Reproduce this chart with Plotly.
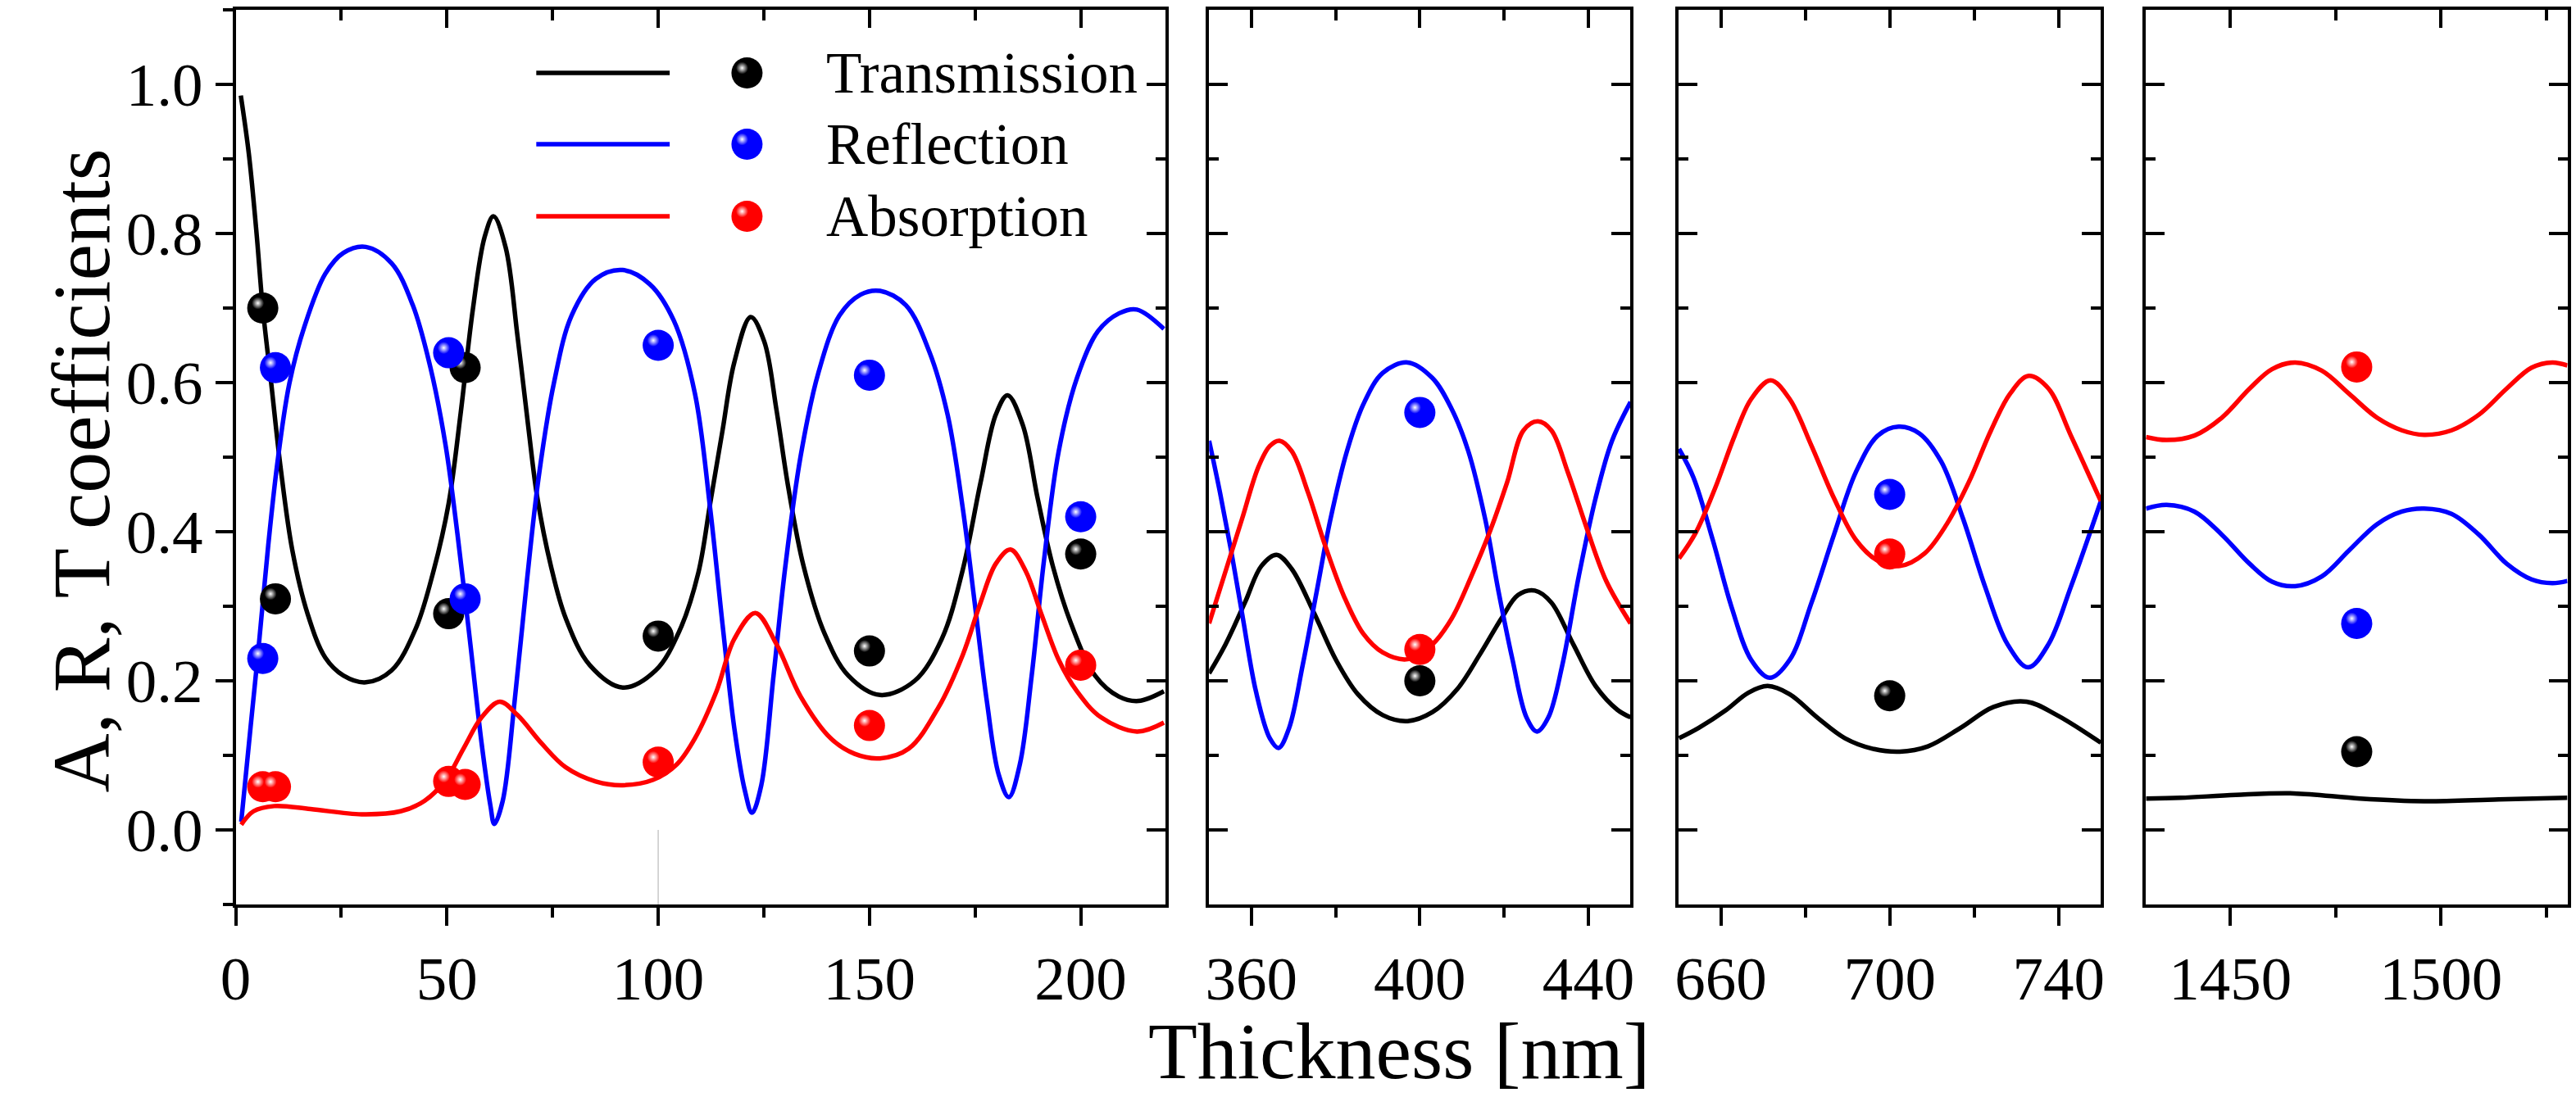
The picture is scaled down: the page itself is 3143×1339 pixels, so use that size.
import plotly.graph_objects as go

# ---------------- data ----------------
# Panel 1: 0-220 nm (calculated curves)
t1_T = [1.2, 3.1, 4.9, 6.4, 8.4, 10.6, 13.4, 17.0, 21.2, 25.5, 30.8, 36.9, 42.6, 46.8, 50.4, 53.2,
        56.1, 58.9, 61.0, 63.9, 66.7, 69.2, 71.4, 74.6, 78.1, 83.8, 91.6, 99.4, 105.1, 109.5, 112.3,
        115.2, 118.0, 121.9, 125.1, 128.0, 130.8, 134.4, 139.4, 145.0, 152.5, 160.7, 167.1, 172.0,
        176.3, 179.9, 182.7, 186.3, 189.8, 193.4, 197.7, 203.4, 209.0, 213.7, 219.7]
T1 = [0.985, 0.907, 0.802, 0.700, 0.599, 0.487, 0.375, 0.290, 0.231, 0.207, 0.198, 0.214, 0.270,
      0.347, 0.438, 0.557, 0.697, 0.795, 0.823, 0.781, 0.662, 0.543, 0.445, 0.354, 0.284, 0.221,
      0.191, 0.214, 0.268, 0.345, 0.438, 0.535, 0.627, 0.688, 0.655, 0.563, 0.459, 0.354, 0.263,
      0.207, 0.181, 0.200, 0.256, 0.347, 0.466, 0.557, 0.583, 0.543, 0.445, 0.354, 0.277, 0.207,
      0.179, 0.173, 0.186]
t1_R = [1.3, 3.5, 5.6, 7.7, 9.9, 12.7, 16.3, 21.2, 25.5, 30.8, 36.9, 41.9, 46.1, 49.7, 52.5, 55.4,
        58.2, 60.3, 61.2, 63.2, 66.0, 68.9, 71.7, 75.3, 79.5, 85.2, 91.6, 98.0, 103.7, 108.7, 112.3,
        115.2, 118.0, 120.5, 122.2, 124.4, 127.3, 130.1, 133.7, 137.9, 142.9, 147.9, 152.5, 158.6,
        164.2, 168.5, 172.1, 174.9, 177.8, 180.6, 183.0, 185.6, 188.4, 191.3, 194.8, 199.1, 204.1,
        209.1, 213.3, 219.7]
R1 = [0.011, 0.137, 0.256, 0.382, 0.494, 0.599, 0.676, 0.746, 0.774, 0.782, 0.760, 0.704, 0.620,
      0.515, 0.396, 0.256, 0.116, 0.032, 0.008, 0.039, 0.172, 0.333, 0.473, 0.599, 0.690, 0.739,
      0.751, 0.732, 0.683, 0.585, 0.431, 0.277, 0.137, 0.053, 0.023, 0.060, 0.207, 0.354, 0.501,
      0.613, 0.690, 0.718, 0.723, 0.704, 0.641, 0.557, 0.431, 0.305, 0.172, 0.074, 0.044, 0.088,
      0.207, 0.361, 0.508, 0.606, 0.669, 0.693, 0.698, 0.672]
t1_A = [1.3, 4.2, 9.1, 17.7, 29.8, 39.0, 44.7, 49.7, 53.9, 58.2, 62.5, 66.7, 72.4, 78.1, 85.2, 91.6,
        98.7, 104.4, 108.7, 113.8, 118.0, 123.0, 128.0, 133.7, 140.8, 146.5, 152.5, 159.3, 166.4,
        172.1, 176.3, 179.9, 183.4, 187.0, 190.6, 194.8, 199.1, 204.8, 213.3, 219.7]
A1 = [0.007, 0.025, 0.032, 0.028, 0.021, 0.025, 0.039, 0.067, 0.109, 0.151, 0.172, 0.154, 0.116,
      0.084, 0.065, 0.060, 0.067, 0.088, 0.123, 0.186, 0.256, 0.291, 0.249, 0.179, 0.123, 0.102,
      0.096, 0.109, 0.165, 0.235, 0.305, 0.357, 0.376, 0.347, 0.291, 0.228, 0.186, 0.151, 0.132,
      0.144]

# Panel 2: 350-450 nm
t2_T = [350.0, 353.9, 358.5, 362.4, 366.0, 369.6, 374.9, 380.1, 385.3, 391.2, 397.1, 403.0, 408.9,
        414.2, 419.4, 423.3, 427.3, 431.2, 436.4, 441.7, 446.9, 450.0]
T2 = [0.210, 0.249, 0.305, 0.354, 0.369, 0.350, 0.291, 0.228, 0.182, 0.154, 0.146, 0.158, 0.189,
      0.235, 0.284, 0.315, 0.321, 0.305, 0.249, 0.193, 0.161, 0.151]
t2_R = [350.0, 352.6, 355.2, 357.8, 361.1, 364.4, 366.5, 369.0, 372.2, 375.5, 378.8, 382.7, 386.6,
        391.2, 397.1, 403.0, 407.6, 411.5, 415.5, 418.7, 422.0, 425.3, 427.8, 430.5, 433.8, 437.7,
        441.7, 445.6, 450.0]
R2 = [0.522, 0.452, 0.375, 0.291, 0.186, 0.123, 0.110, 0.137, 0.221, 0.319, 0.417, 0.508, 0.571,
      0.613, 0.627, 0.606, 0.564, 0.508, 0.417, 0.319, 0.228, 0.151, 0.132, 0.151, 0.221, 0.340,
      0.445, 0.522, 0.574]
t2_A = [350.0, 353.9, 357.8, 361.7, 364.4, 366.7, 369.6, 373.5, 377.5, 382.1, 386.6, 391.2, 397.1,
        403.0, 407.6, 412.2, 416.8, 420.7, 424.6, 428.0, 431.2, 435.1, 439.7, 444.3, 450.0]
A2 = [0.277, 0.347, 0.417, 0.487, 0.515, 0.522, 0.508, 0.452, 0.382, 0.312, 0.263, 0.238, 0.229,
      0.249, 0.284, 0.340, 0.403, 0.466, 0.536, 0.548, 0.536, 0.480, 0.403, 0.333, 0.277]

# Panel 3: 650-750 nm
t3_T = [650.1, 654.8, 661.3, 666.5, 671.1, 676.3, 682.8, 689.4, 695.9, 702.4, 709.0, 716.8, 724.6,
        732.4, 739.6, 750.0]
T3 = [0.123, 0.137, 0.161, 0.184, 0.193, 0.182, 0.151, 0.123, 0.109, 0.105, 0.112, 0.137, 0.165,
      0.172, 0.154, 0.117]
t3_R = [650.1, 653.5, 658.1, 662.6, 667.2, 671.6, 676.3, 681.5, 686.8, 692.0, 697.2, 702.1, 707.0,
        712.2, 717.4, 722.6, 727.9, 732.8, 737.6, 742.9, 750.0]
R3 = [0.511, 0.473, 0.389, 0.298, 0.228, 0.204, 0.228, 0.305, 0.396, 0.480, 0.529, 0.541, 0.532,
      0.494, 0.417, 0.326, 0.249, 0.218, 0.249, 0.326, 0.441]
t3_A = [650.1, 654.1, 658.7, 663.3, 667.2, 671.8, 676.3, 681.5, 686.8, 692.0, 697.2, 702.4, 708.3,
        713.5, 718.7, 724.0, 728.5, 732.9, 737.6, 742.9, 750.0]
A3 = [0.364, 0.399, 0.459, 0.529, 0.578, 0.603, 0.578, 0.515, 0.445, 0.389, 0.361, 0.354, 0.371,
      0.410, 0.466, 0.536, 0.585, 0.609, 0.592, 0.529, 0.441]

# Panel 4: 1430-1530 nm
t4_T = [1430.0, 1438.2, 1451.3, 1465.1, 1480.8, 1496.0, 1513.7, 1530.0]
T4 = [0.042, 0.043, 0.047, 0.049, 0.042, 0.0385, 0.041, 0.043]
t4_RA = [1430.0, 1434.9, 1441.5, 1448.0, 1454.6, 1459.9, 1465.4, 1471.7, 1478.2, 1484.8, 1490.7,
         1496.0, 1502.5, 1509.0, 1515.6, 1521.5, 1526.4, 1530.0]
R4 = [0.431, 0.436, 0.427, 0.396, 0.357, 0.333, 0.327, 0.340, 0.375, 0.410, 0.427, 0.431, 0.424,
      0.396, 0.357, 0.336, 0.331, 0.334]
A4 = [0.527, 0.523, 0.529, 0.553, 0.592, 0.618, 0.627, 0.616, 0.585, 0.553, 0.536, 0.530, 0.536,
      0.557, 0.592, 0.620, 0.627, 0.623]

# Experimental points
exp1_thk = [6.4, 9.4, 50.4, 54.3, 100, 150, 200]
exp1_T = [0.70, 0.31, 0.29, 0.62, 0.26, 0.24, 0.37]
exp1_R = [0.23, 0.62, 0.64, 0.31, 0.65, 0.61, 0.42]
exp1_A = [0.058, 0.058, 0.065, 0.061, 0.091, 0.14, 0.221]
exp2_thk = [400]
exp2_T, exp2_R, exp2_A = [0.20], [0.56], [0.242]
exp3_thk = [700]
exp3_T, exp3_R, exp3_A = [0.18], [0.45], [0.37]
exp4_thk = [1480]
exp4_T, exp4_R, exp4_A = [0.105], [0.277], [0.621]

series_names = ["Transmission", "Reflection", "Absorption"]
series_colors = ["#000000", "#0000ff", "#ff0000"]

x_ranges = [[0, 220], [350, 450], [650, 750], [1430, 1530]]
x_dticks = [50, 40, 40, 50]
x_tick0s = [0, 0, 20, 0]

# ---------------- layout geometry (pixels) ----------------
W, H = 3143, 1339
panel_px = [(270.6, 1413.0), (1467.0, 1985.0), (2044.0, 2563.0), (2618.5, 3136.5)]
TOP_PX, BOT_PX = 12.0, 1104.0
Y_RANGE = [-0.1, 1.1]
FONT = "Liberation Serif, Times New Roman, serif"
LW = 4
CURVE_W = 5.5
MSIZE = 38
HL_SIZE = 15
HL_OFF = 6  # highlight offset of the ball markers, px

curves = [
    [(t1_T, T1), (t1_R, R1), (t1_A, A1)],
    [(t2_T, T2), (t2_R, R2), (t2_A, A2)],
    [(t3_T, T3), (t3_R, R3), (t3_A, A3)],
    [(t4_T, T4), (t4_RA, R4), (t4_RA, A4)],
]
points = [
    (exp1_thk, [exp1_T, exp1_R, exp1_A]),
    (exp2_thk, [exp2_T, exp2_R, exp2_A]),
    (exp3_thk, [exp3_T, exp3_R, exp3_A]),
    (exp4_thk, [exp4_T, exp4_R, exp4_A]),
]

fig = go.Figure()
ppy = (BOT_PX - TOP_PX) / (Y_RANGE[1] - Y_RANGE[0])


def sfx(n):
    return "" if n == 1 else str(n)


tickfont = dict(family=FONT, size=75, color="black")
layout = {}
for i in range(4):
    n = i + 1
    xa, ya = "x" + sfx(n), "y" + sfx(n)
    px0, px1 = panel_px[i]
    xr = x_ranges[i]
    ppx = (px1 - px0) / (xr[1] - xr[0])

    for (xs, ys), c in zip(curves[i], series_colors):
        fig.add_trace(go.Scatter(x=xs, y=ys, mode="lines", xaxis=xa, yaxis=ya,
                                 line=dict(color=c, width=CURVE_W, shape="spline", smoothing=1.0),
                                 showlegend=False, hoverinfo="skip"))
    thk, vals_list = points[i]
    for vals, c in zip(vals_list, series_colors):
        fig.add_trace(go.Scatter(x=thk, y=vals, mode="markers", xaxis=xa, yaxis=ya,
                                 marker=dict(color=c, size=MSIZE, line=dict(width=0)),
                                 showlegend=False, hoverinfo="skip"))
        fig.add_trace(go.Scatter(x=[t - HL_OFF / ppx for t in thk],
                                 y=[v + HL_OFF / ppy for v in vals],
                                 mode="markers", xaxis=xa, yaxis=ya,
                                 marker=dict(color=c, size=HL_SIZE, line=dict(width=0),
                                             gradient=dict(type="radial", color="white")),
                                 showlegend=False, hoverinfo="skip"))

    dom_x = [px0 / W, px1 / W]
    dom_y = [1 - BOT_PX / H, 1 - TOP_PX / H]
    common = dict(showline=True, linecolor="black", linewidth=LW, showgrid=False,
                  zeroline=False, tickcolor="black", tickwidth=LW, fixedrange=True)
    minor_x = dict(dtick=x_dticks[i] / 2, tick0=x_tick0s[i], tickwidth=LW, tickcolor="black")
    minor_y = dict(dtick=0.1, tick0=0, tickwidth=LW, tickcolor="black")

    # bottom axis with labels
    layout["xaxis" + sfx(n)] = dict(common, domain=dom_x, range=xr, anchor=ya, side="bottom",
                                    ticks="outside", ticklen=22, dtick=x_dticks[i],
                                    tick0=x_tick0s[i], tickfont=tickfont,
                                    minor=dict(minor_x, ticks="outside", ticklen=12))
    # top axis, inner ticks
    layout["xaxis" + str(n + 4)] = dict(common, range=xr, overlaying=xa, anchor=ya, side="top",
                                        ticks="inside", ticklen=22, dtick=x_dticks[i],
                                        tick0=x_tick0s[i], showticklabels=False,
                                        minor=dict(minor_x, ticks="inside", ticklen=13))
    # left axis
    if i == 0:
        layout["yaxis"] = dict(common, domain=dom_y, range=Y_RANGE, anchor=xa, side="left",
                               ticks="outside", ticklen=21, dtick=0.2, tick0=0,
                               tickformat=".1f", tickfont=tickfont,
                               minor=dict(minor_y, ticks="outside", ticklen=12))
    else:
        layout["yaxis" + sfx(n)] = dict(common, domain=dom_y, range=Y_RANGE, anchor=xa,
                                        side="left", ticks="inside", ticklen=23, dtick=0.2,
                                        tick0=0, showticklabels=False,
                                        minor=dict(minor_y, ticks="inside", ticklen=12))
    # right axis, inner ticks
    layout["yaxis" + str(n + 4)] = dict(common, range=Y_RANGE, overlaying=ya, anchor=xa,
                                        side="right", ticks="inside", ticklen=23, dtick=0.2,
                                        tick0=0, showticklabels=False,
                                        minor=dict(minor_y, ticks="inside", ticklen=12))
    fig.add_trace(go.Scatter(x=[], y=[], xaxis="x" + str(n + 4), yaxis="y" + str(n + 4),
                             showlegend=False, hoverinfo="skip"))

# pixel canvas for the legend key
layout["xaxis9"] = dict(domain=[0, 1], range=[0, W], visible=False, fixedrange=True, anchor="y9")
layout["yaxis9"] = dict(domain=[0, 1], range=[H, 0], visible=False, fixedrange=True, anchor="x9")

LEG_ROWS = [89, 176, 264]
LEG_LINE = (640, 804)
LEG_MARK_X = 899
LEG_TEXT_X = 994
shapes = []
annotations = []
for row, name, c in zip(LEG_ROWS, series_names, series_colors):
    shapes.append(dict(type="line", xref="paper", yref="paper",
                       x0=LEG_LINE[0] / W, x1=LEG_LINE[1] / W, y0=1 - row / H, y1=1 - row / H,
                       line=dict(color=c, width=CURVE_W)))
    fig.add_trace(go.Scatter(x=[LEG_MARK_X], y=[row], mode="markers", xaxis="x9", yaxis="y9",
                             marker=dict(color=c, size=MSIZE, line=dict(width=0)),
                             showlegend=False, hoverinfo="skip"))
    fig.add_trace(go.Scatter(x=[LEG_MARK_X - HL_OFF], y=[row - HL_OFF], mode="markers",
                             xaxis="x9", yaxis="y9",
                             marker=dict(color=c, size=HL_SIZE, line=dict(width=0),
                                         gradient=dict(type="radial", color="white")),
                             showlegend=False, hoverinfo="skip"))
    annotations.append(dict(text=name, xref="paper", yref="paper", x=LEG_TEXT_X / W,
                            y=1 - row / H, xanchor="left", yanchor="middle", showarrow=False,
                            font=dict(family=FONT, size=71, color="black")))

# faint drop line at 100 nm
shapes.append(dict(type="line", xref="x", yref="y", x0=100, x1=100, y0=Y_RANGE[0], y1=0,
                   layer="below", line=dict(color="#c8c8c8", width=1.5)))

# axis titles
annotations.append(dict(text="A, R, T coefficients", xref="paper", yref="paper",
                        x=81 / W, y=1 - 574 / H, xanchor="center", yanchor="middle",
                        textangle=-90, showarrow=False,
                        font=dict(family=FONT, size=100, color="black")))
annotations.append(dict(text="Thickness [nm]", xref="paper", yref="paper",
                        x=1700 / W, y=1 - 1283 / H, xanchor="center", yanchor="middle",
                        showarrow=False, font=dict(family=FONT, size=98, color="black")))

fig.update_layout(**layout)
fig.update_layout(width=W, height=H, margin=dict(l=0, r=0, t=0, b=0),
                  paper_bgcolor="white", plot_bgcolor="rgba(0,0,0,0)", showlegend=False,
                  shapes=shapes, annotations=annotations,
                  font=dict(family=FONT, color="black"))

fig.write_html("out.html")
